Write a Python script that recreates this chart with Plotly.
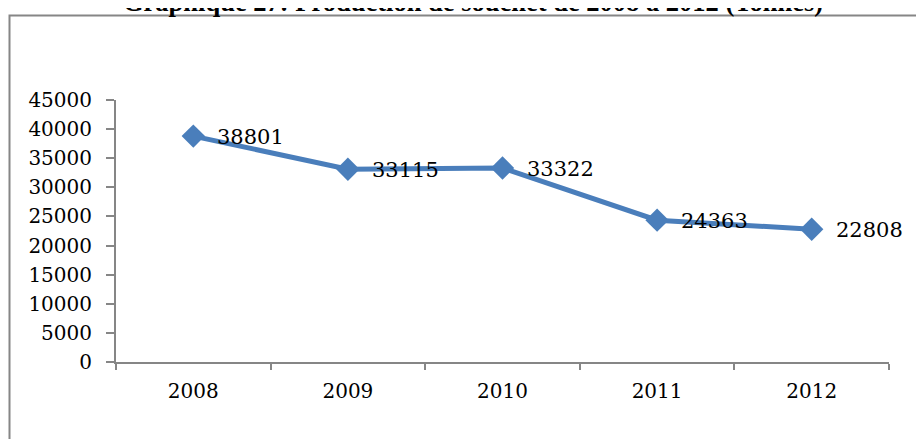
import plotly.graph_objects as go

years = ["2008", "2009", "2010", "2011", "2012"]
production = [38801, 33115, 33322, 24363, 22808]
y_ticks = [0, 5000, 10000, 15000, 20000, 25000, 30000, 35000, 40000, 45000]
title_text = "Graphique 27: Production de souchet de 2008 à 2012 (Tonnes)"

W, H = 924, 439
ml, mr, mt, mb = 108, 43, 92, 85
pw, ph = W - ml - mr, H - mt - mb

def px_x(x):
    return (x - ml) / pw

def px_y(y):
    return (H - mb - y) / ph

fig = go.Figure()
fig.add_trace(go.Scatter(
    x=years, y=production,
    mode="lines+markers",
    line=dict(color="#4A7EBB", width=5),
    marker=dict(symbol="diamond", size=18, color="#4A7EBB"),
    cliponaxis=False,
    showlegend=False,
))

for i, v in enumerate(production):
    fig.add_annotation(
        x=i, y=v, xref="x", yref="y",
        text=str(v), showarrow=False,
        xanchor="left", yanchor="middle",
        xshift=22, yshift=-1,
        font=dict(family="DejaVu Serif", size=21, color="#000000"),
    )

axis_color = "#868686"
fig.update_layout(
    width=W, height=H,
    margin=dict(l=ml, r=mr, t=mt, b=mb),
    paper_bgcolor="white", plot_bgcolor="white",
    xaxis=dict(
        type="category",
        tickson="boundaries",
        ticks="outside", ticklen=6, tickcolor=axis_color, tickwidth=2,
        showline=True, linecolor=axis_color, linewidth=2,
        showgrid=False,
        ticklabelstandoff=10,
        tickfont=dict(family="DejaVu Serif", size=20, color="#000000"),
        range=[-0.5, 4.5],
    ),
    yaxis=dict(
        range=[0, 45000],
        tickvals=y_ticks,
        ticktext=[str(v) for v in y_ticks],
        ticks="outside", ticklen=8, tickcolor=axis_color, tickwidth=2,
        showline=True, linecolor=axis_color, linewidth=2,
        showgrid=False, zeroline=False,
        ticklabelstandoff=10,
        tickfont=dict(family="DejaVu Serif", size=20, color="#000000"),
    ),
)

# chart border (extends beyond the visible page at right and bottom)
fig.add_shape(type="rect", xref="paper", yref="paper",
              x0=px_x(1.5), x1=px_x(W + 30), y0=px_y(H + 30), y1=px_y(7.5),
              line=dict(color=axis_color, width=2), layer="below")

# title partially cut off at top
fig.add_annotation(
    text="<b>" + title_text + "</b>",
    xref="paper", yref="paper",
    x=px_x(464.5), y=px_y(-6),
    xanchor="center", yanchor="middle",
    showarrow=False,
    font=dict(family="Liberation Serif", size=26.5, color="#000000"),
)

fig.write_html("out.html")
